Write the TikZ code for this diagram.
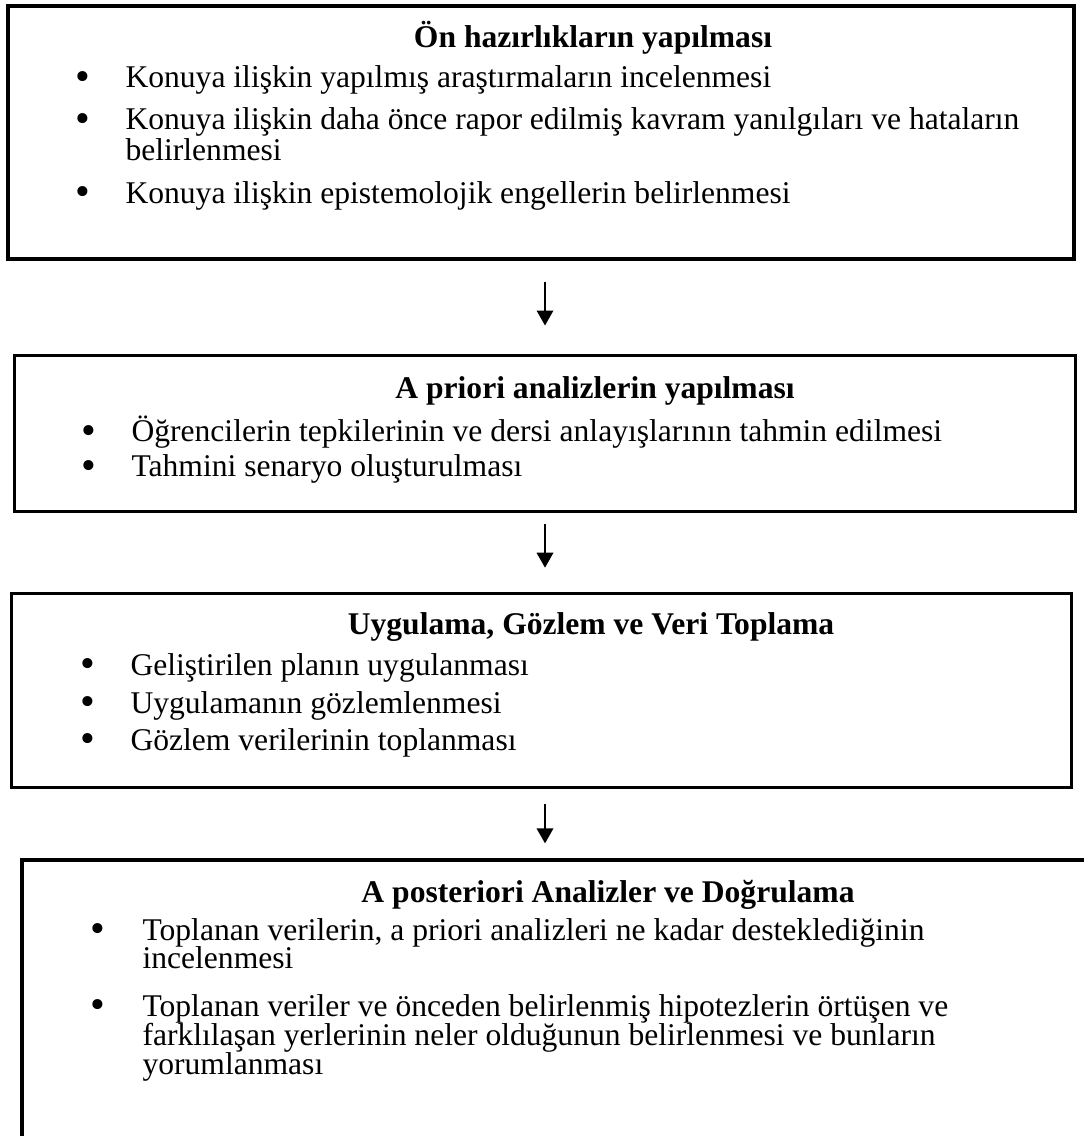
\documentclass[tikz,border=0pt]{standalone}
\usepackage{fontspec}
\setmainfont{Liberation Serif}
\usepackage{tikz}
\usetikzlibrary{arrows.meta, positioning}

\begin{document}
\begin{tikzpicture}[
    x=0.01335cm, y=-0.01335cm,
    box/.style 2 args={draw=black, line width=1.25pt, inner sep=0pt,
                minimum width={#1*0.01335cm}, minimum height={#2*0.01335cm}},
    ttl/.style={anchor=base, inner sep=0pt, font=\fontsize{12}{14}\selectfont\bfseries},
    itm/.style={anchor=base west, inner sep=0pt, font=\fontsize{12}{14}\selectfont},
    dot/.style={anchor=base, inner sep=0pt, font=\fontsize{16}{16}\selectfont},
    arr/.style={-{Triangle[length=0.2cm, width=0.22cm]}, line width=0.75pt},
]
    \newcommand{\blt}{\smash{\raisebox{-0.9pt}{\textbullet}}}
    \useasboundingbox (0,0) rectangle (1083,1136);
    \coordinate (axis) at (545,0);

    % box 1
    \node[box={1066}{253}] (box1) at (541,132.5) {};
    \node[ttl] (t1) at (593,48) {Ön hazırlıkların yapılması};
    \node[dot] (d11) at (83,88) {\blt};
    \node[itm] (i11) at (125,88) {Konuya ilişkin yapılmış araştırmaların incelenmesi};
    \node[dot] (d12) at (83,130) {\blt};
    \node[itm] (i12) at (125,130) {Konuya ilişkin daha önce rapor edilmiş kavram yanılgıları ve hataların};
    \node[itm] (i12b) at (125,161) {belirlenmesi};
    \node[dot] (d13) at (83,203.5) {\blt};
    \node[itm] (i13) at (125,203.5) {Konuya ilişkin epistemolojik engellerin belirlenmesi};

    % box 2
    \node[box={1061}{156}] (box2) at (545,433.6) {};
    \node[ttl] (t2) at (595,399) {A priori analizlerin yapılması};
    \node[dot] (d21) at (89,442) {\blt};
    \node[itm] (i21) at (131,442) {Öğrencilerin tepkilerinin ve dersi anlayışlarının tahmin edilmesi};
    \node[dot] (d22) at (89,477) {\blt};
    \node[itm] (i22) at (131,477) {Tahmini senaryo oluşturulması};

    % box 3
    \node[box={1060}{194}] (box3) at (541.8,690.3) {};
    \node[ttl] (t3) at (591,634) {Uygulama, Gözlem ve Veri Toplama};
    \node[dot] (d31) at (88,675) {\blt};
    \node[itm] (i31) at (130,675) {Geliştirilen planın uygulanması};
    \node[dot] (d32) at (88,713) {\blt};
    \node[itm] (i32) at (130,713) {Uygulamanın gözlemlenmesi};
    \node[dot] (d33) at (88,750) {\blt};
    \node[itm] (i33) at (130,750) {Gözlem verilerinin toplanması};

    % box 4 (runs off the page)
    \node[box={1078}{300}] (box4) at (561,1010) {};
    \node[ttl] (t4) at (608,902) {A posteriori Analizler ve Doğrulama};
    \node[dot] (d41) at (98,940) {\blt};
    \node[itm] (i41) at (142,940) {Toplanan verilerin, a priori analizleri ne kadar desteklediğinin};
    \node[itm] (i41b) at (142,968) {incelenmesi};
    \node[dot] (d42) at (98,1016) {\blt};
    \node[itm] (i42) at (142,1016) {Toplanan veriler ve önceden belirlenmiş hipotezlerin örtüşen ve};
    \node[itm] (i42b) at (142,1045) {farklılaşan yerlerinin neler olduğunun belirlenmesi ve bunların};
    \node[itm] (i42c) at (142,1074) {yorumlanması};

    % arrows
    \draw[arr, shorten <=0.28cm, shorten >=0.38cm] (box1.south -| axis) -- (box2.north -| axis);
    \draw[arr, shorten <=0.15cm, shorten >=0.32cm] (box2.south -| axis) -- (box3.north -| axis);
    \draw[arr, shorten <=0.2cm, shorten >=0.2cm] (box3.south -| axis) -- (box4.north -| axis);
\end{tikzpicture}
\end{document}
